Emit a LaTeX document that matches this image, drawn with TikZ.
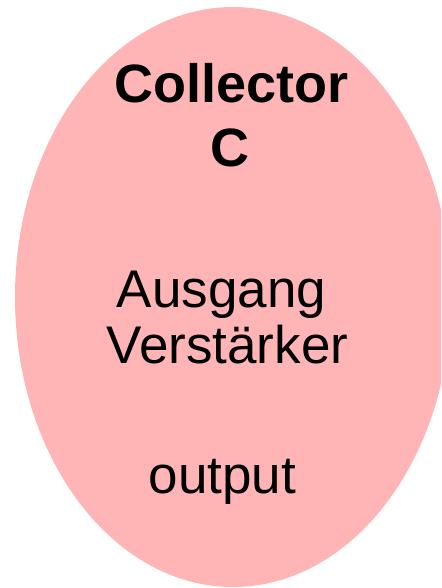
\documentclass[tikz,border=0pt]{standalone}
\usepackage{fontspec}
\setmainfont{Liberation Sans}
\definecolor{pinkfill}{RGB}{255,181,181}
\begin{document}
\begin{tikzpicture}[x=1pt,y=-1pt,
  lbl/.style={anchor=base,inner sep=0pt,font=\fontsize{53}{60}\selectfont},
  bold/.style={lbl,font=\fontsize{54}{60}\selectfont\bfseries}]
\useasboundingbox (0,0) rectangle (441,588);
\clip (0,0) rectangle (441,588);
\fill[pinkfill] (233,297) ellipse [x radius=218, y radius=290];
\node[bold] (t1) at (231.5,103) {Collector};
\node[bold] (t2) at (230,167) {C};
\node[lbl] (t3) at (221.5,307) {Ausgang};
\node[lbl] (t4) at (227.5,363) {Verstärker};
\node[lbl] (t5) at (222.5,493) {output};
\end{tikzpicture}
\end{document}
